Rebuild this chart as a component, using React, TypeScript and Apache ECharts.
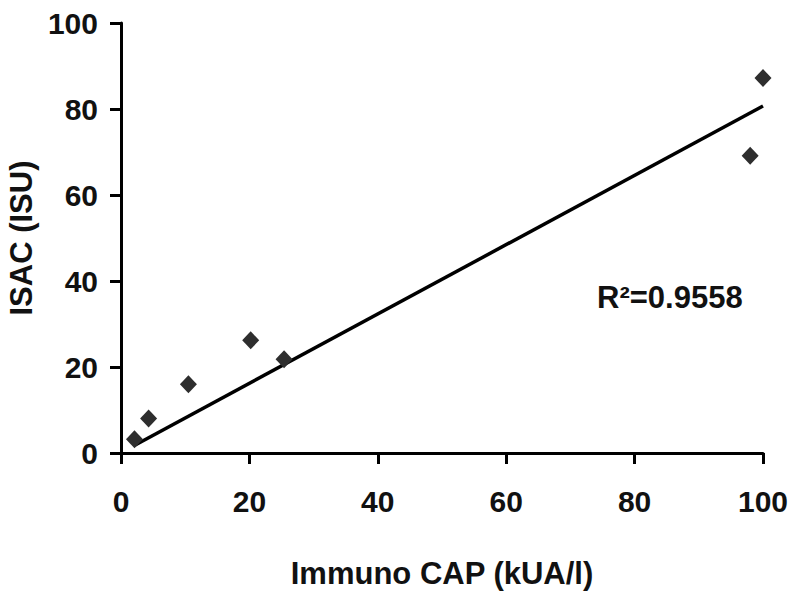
import React, { useEffect, useRef } from "react";
import * as echarts from "echarts";

const capValues = [2.1, 4.3, 10.5, 20.2, 25.4, 98.0, 100.0];
const isacValues = [3.2, 8.0, 16.0, 26.2, 21.8, 69.1, 87.2];
const trendX = [2, 100];
const trendY = [1.7, 80.7];
const xTicks = { min: 0, max: 100, interval: 20 };
const yTicks = { min: 0, max: 100, interval: 20 };
const xTitle = "Immuno CAP (kUA/l)";
const yTitle = "ISAC (ISU)";
const r2Label = "R²=0.9558";

const FONT = "'Liberation Sans', Arial, sans-serif";

export default function App() {
  const ref = useRef<HTMLDivElement>(null);
  useEffect(() => {
    if (!ref.current) return;
    const chart = echarts.init(ref.current, undefined, { renderer: "svg" });
    const axisCommon = {
      type: "value" as const,
      splitLine: { show: false },
      axisLine: { show: true, lineStyle: { color: "#000", width: 3 } },
      axisTick: { show: true, inside: false, length: 11, lineStyle: { color: "#000", width: 3 } },
      axisLabel: { fontSize: 30, fontWeight: "bold", color: "#111", fontFamily: FONT },
      nameLocation: "middle" as const,
      nameTextStyle: { fontSize: 31, fontWeight: "bold", color: "#111", fontFamily: FONT },
    };
    chart.setOption({
      animation: false,
      backgroundColor: "#fff",
      grid: {
        left: 121,
        right: 37,
        top: 23,
        bottom: 152,
        containLabel: false,
        outerBoundsMode: "none",
      },
      xAxis: {
        ...axisCommon,
        ...xTicks,
        name: xTitle,
        nameGap: 105,
        axisLabel: { ...axisCommon.axisLabel, margin: 33 },
      },
      yAxis: {
        ...axisCommon,
        ...yTicks,
        name: yTitle,
        nameGap: 84,
        axisLabel: { ...axisCommon.axisLabel, margin: 23 },
      },
      series: [
        {
          type: "line",
          data: trendX.map((x, i) => [x, trendY[i]]),
          showSymbol: false,
          symbol: "none",
          lineStyle: { color: "#000", width: 3.5 },
          z: 2,
        },
        {
          type: "scatter",
          data: capValues.map((x, i) => [x, isacValues[i]]),
          symbol: "diamond",
          symbolSize: [17, 18],
          itemStyle: { color: "#2e2e2e", opacity: 1 },
          z: 3,
        },
      ],
      graphic: [
        {
          type: "text",
          left: 597,
          top: 282,
          style: {
            text: r2Label,
            fontSize: 31,
            fontWeight: "bold",
            fill: "#111",
            fontFamily: FONT,
          },
        },
      ],
    });
    return () => chart.dispose();
  }, []);
  return (
    <div
      ref={ref}
      style={{ position: "absolute", left: 0, top: 0, width: 800, height: 605 }}
    />
  );
}
